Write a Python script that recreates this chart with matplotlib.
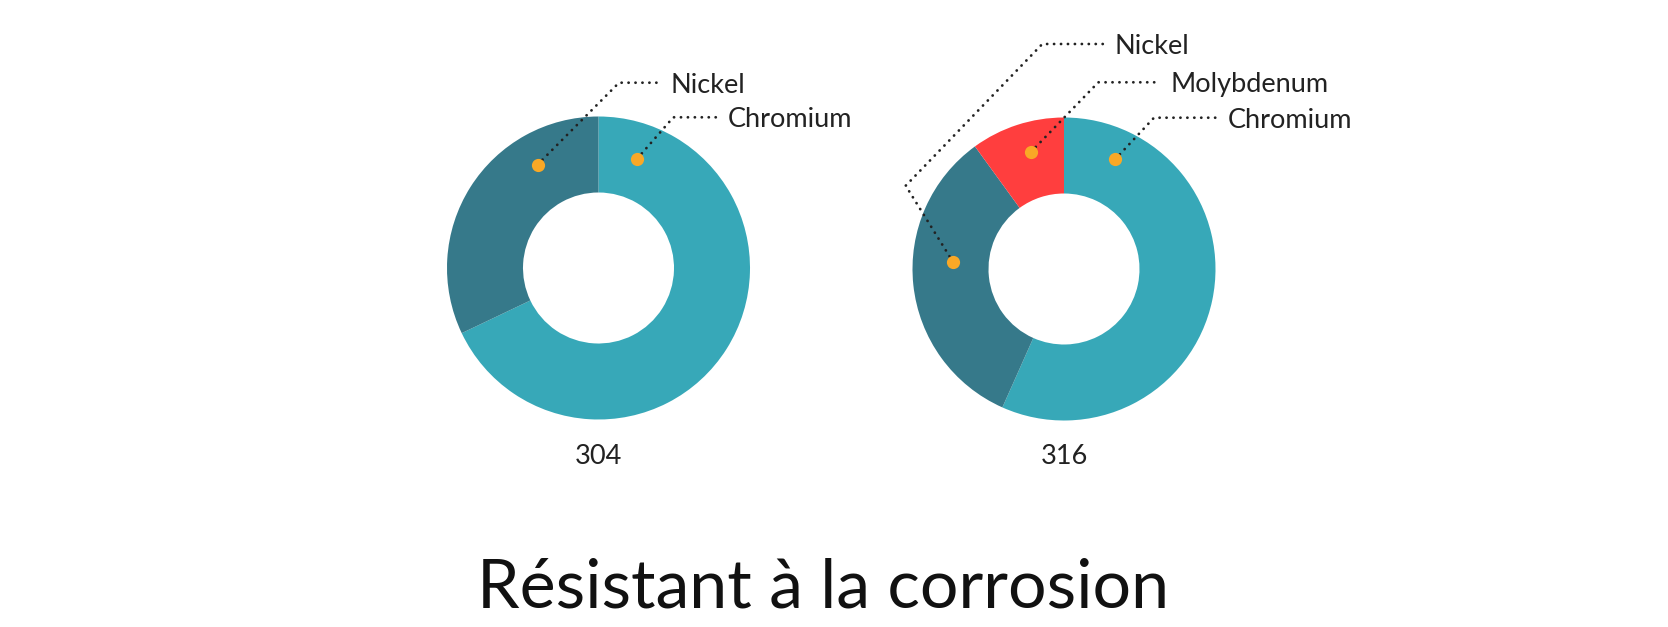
import numpy as np
import matplotlib
matplotlib.use("Agg")
import matplotlib.pyplot as plt

# ---------------- data ----------------
grades = ["304", "316"]
components = ["Chromium", "Nickel", "Molybdenum"]
values_304 = [18.0, 8.5, 0.0]
values_316 = [17.0, 10.0, 3.0]
title = "Résistant à la corrosion"

# ---------------- style / layout ----------------
W, H = 1668, 627
comp_colors = {"Chromium": "#37A8B8", "Nickel": "#36798A", "Molybdenum": "#FF3E3E"}
dot_color = "#F9A826"
text_color = "#222222"
FONT = ["Lato", "DejaVu Sans"]

centers_px = [(598.5, 268.0), (1064.0, 269.0)]
R_OUT = 151.5
RING = 76.0
grade_label_y = 457.0

# leader layout: component -> (dot angle deg, dot radius px, path points in px (y down))
leaders = [
    {
        "Nickel": (120.5, 120.0, [(619, 82.7), (660, 82.7)]),
        "Chromium": (70.5, 116.0, [(673.3, 117.3), (716.7, 117.3)]),
    },
    {
        "Nickel": (176.5, 111.0, [(905.7, 185.7), (1042.3, 44.0), (1104, 44.0)]),
        "Molybdenum": (105.8, 121.6, [(1098.3, 82.3), (1160, 82.3)]),
        "Chromium": (65.0, 121.0, [(1154, 117.7), (1216.7, 117.7)]),
    },
]


def fy(y):
    return H - y


fig = plt.figure(figsize=(W / 100, H / 100), dpi=100)
ax = fig.add_axes([0, 0, 1, 1])

for gi, (grade, vals) in enumerate(zip(grades, [values_304, values_316])):
    cx, cy = centers_px[gi]
    names = [c for c, v in zip(components, vals) if v > 0]
    vv = [v for v in vals if v > 0]
    ax.pie(vv, colors=[comp_colors[n] for n in names], startangle=90,
           counterclock=False, radius=R_OUT, center=(cx, fy(cy)),
           wedgeprops=dict(width=RING, linewidth=0), frame=True)
    ax.text(cx, fy(grade_label_y), grade, ha="center", va="center",
            fontsize=19.5, color=text_color, family=FONT)
    for name, (ang, r, path) in leaders[gi].items():
        dx = cx + r * np.cos(np.radians(ang))
        dy = fy(cy) + r * np.sin(np.radians(ang))
        xs = [dx] + [p[0] for p in path]
        ys = [dy] + [fy(p[1]) for p in path]
        ax.plot(xs, ys, color=text_color, lw=2.0, linestyle=(0, (0.05, 2.45)),
                dash_capstyle="round", zorder=4)
        ax.plot([dx], [dy], "o", ms=9.5, color=dot_color, mec="none", zorder=5)
        ax.text(path[-1][0] + 11, fy(path[-1][1] + 2.5), name, ha="left", va="center",
                fontsize=19.5, color=text_color, family=FONT)

ax.text(823, fy(589), title, ha="center", va="center", fontsize=49,
        color="#111111", family=FONT)

ax.set_xlim(0, W)
ax.set_ylim(0, H)
ax.set_aspect("auto")
ax.axis("off")
fig.savefig("out.png", dpi=100, facecolor="white")
